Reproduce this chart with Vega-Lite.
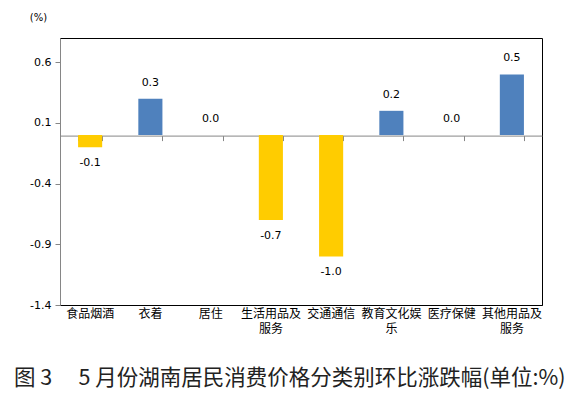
{
  "$schema": "https://vega.github.io/schema/vega-lite/v6.json",
  "width": 482,
  "height": 267,
  "autosize": {"type": "none"},
  "padding": {"left": 60, "top": 38, "right": 32, "bottom": 91},
  "background": "white",
  "title": {
    "text": "图\u00a03\u3000\u00a05\u00a0月份湖南居民消费价格分类别环比涨跌幅(单位:%)",
    "orient": "bottom",
    "anchor": "start",
    "frame": "group",
    "dx": -46,
    "offset": 34,
    "font": "Noto Sans CJK SC",
    "fontSize": 21.5,
    "fontWeight": "normal",
    "color": "#222222"
  },
  "data": {
    "values": [
      {"cat": "食品烟酒", "v": -0.1},
      {"cat": "衣着", "v": 0.3},
      {"cat": "居住", "v": 0.0},
      {"cat": "生活用品及服务", "v": -0.7},
      {"cat": "交通通信", "v": -1.0},
      {"cat": "教育文化娱乐", "v": 0.2},
      {"cat": "医疗保健", "v": 0.0},
      {"cat": "其他用品及服务", "v": 0.5}
    ]
  },
  "transform": [
    {"calculate": "replace(format(datum.v, '.1f'), '\u2212', '-')", "as": "lbl"}
  ],
  "resolve": {"axis": {"x": "independent"}},
  "layer": [
    {
      "mark": {"type": "bar"},
      "encoding": {
        "x": {
          "field": "cat", "type": "nominal", "sort": null,
          "scale": {"paddingInner": 0.6, "paddingOuter": 0.3},
          "axis": {
            "orient": "bottom", "title": null, "ticks": false, "labelAngle": 0,
            "domainColor": "#000000", "domainWidth": 1,
            "labelFont": "Noto Sans CJK SC", "labelFontSize": 12, "labelColor": "#000000",
            "labelPadding": 3, "labelLineHeight": 15, "labelBaseline": "top",
            "labelExpr": "datum.value == '生活用品及服务' ? ['生活用品及', '服务'] : datum.value == '教育文化娱乐' ? ['教育文化娱', '乐'] : datum.value == '其他用品及服务' ? ['其他用品及', '服务'] : datum.value"
          }
        },
        "y": {
          "field": "v", "type": "quantitative", "title": "(%)",
          "scale": {"domain": [-1.4, 0.8], "nice": false, "zero": false},
          "axis": {"values": [-1.4, -0.9, -0.4, 0.1, 0.6]}
        },
        "color": {
          "condition": {"test": "datum.v < 0", "value": "#FFCC00"},
          "value": "#4F81BD"
        }
      }
    },
    {
      "transform": [{"filter": "datum.v >= 0"}],
      "mark": {"type": "text", "baseline": "middle", "dy": -16, "font": "DejaVu Sans", "fontSize": 11, "color": "#000000"},
      "encoding": {
        "x": {
          "field": "cat", "type": "nominal", "sort": null,
          "axis": {
            "orient": "top", "offset": -97.6, "title": null, "labels": false,
            "tickSize": -5, "tickBand": "extent", "tickColor": "#868686",
            "domainColor": "#868686", "domainWidth": 1
          }
        },
        "y": {"field": "v", "type": "quantitative", "title": "(%)", "axis": {"values": [-1.4, -0.9, -0.4, 0.1, 0.6]}},
        "text": {"field": "lbl"}
      }
    },
    {
      "transform": [{"filter": "datum.v < 0"}],
      "mark": {"type": "text", "baseline": "middle", "dy": 16, "font": "DejaVu Sans", "fontSize": 11, "color": "#000000"},
      "encoding": {
        "x": {"field": "cat", "type": "nominal", "sort": null, "axis": null},
        "y": {"field": "v", "type": "quantitative", "title": "(%)", "axis": {"values": [-1.4, -0.9, -0.4, 0.1, 0.6]}},
        "text": {"field": "lbl"}
      }
    }
  ],
  "config": {
    "view": {"stroke": "#000000", "strokeWidth": 1},
    "axisY": {
      "grid": false,
      "domainColor": "#868686",
      "tickColor": "#868686",
      "tickSize": 5,
      "labelPadding": 4,
      "labelFont": "DejaVu Sans",
      "labelFontSize": 11,
      "labelColor": "#000000",
      "labelExpr": "replace(format(datum.value, '.1f'), '\u2212', '-')",
      "titleAngle": 0,
      "titleX": -22,
      "titleY": -21,
      "titleAlign": "center",
      "titleBaseline": "middle",
      "titleFont": "DejaVu Sans",
      "titleFontSize": 10,
      "titleFontWeight": "normal",
      "titleColor": "#000000"
    }
  }
}
